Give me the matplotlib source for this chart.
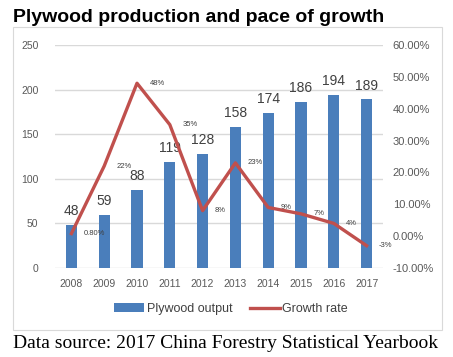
import matplotlib
matplotlib.use('Agg')
import matplotlib.pyplot as plt
from matplotlib.patches import Rectangle

years = ['2008', '2009', '2010', '2011', '2012', '2013', '2014', '2015', '2016', '2017']
output = [48, 59, 88, 119, 128, 158, 174, 186, 194, 189]
growth = [0.8, 22, 48, 35, 8, 23, 9, 7, 4, -3]
growth_labels = ['0.80%', '22%', '48%', '35%', '8%', '23%', '9%', '7%', '4%', '-3%']

W, H = 453, 357
fig = plt.figure(figsize=(W / 100, H / 100), dpi=100)
plt.rcParams['font.family'] = ['Liberation Sans', 'DejaVu Sans']

ax = fig.add_axes([55 / W, (H - 268) / H, (383 - 55) / W, (268 - 45) / H])
x = range(len(years))
bars = ax.bar(x, output, width=0.34, color='#4A7EBB', label='Plywood output', zorder=3)
ax.set_ylim(0, 250)
ax.set_xlim(-0.5, len(years) - 0.5)
ax.set_yticks([0, 50, 100, 150, 200, 250])
ax.set_xticks(list(x))
ax.set_xticklabels(years)
ax.grid(axis='y', color='#d9d9d9', linewidth=1, zorder=0)
for s in ax.spines.values():
    s.set_visible(False)
ax.tick_params(length=0, labelsize=7.5, colors='#595959', pad=8)
ax.tick_params(axis='y', pad=12)

for i, v in enumerate(output):
    ax.annotate(str(v), (i, v), xytext=(0, 10), textcoords='offset points',
                ha='center', va='center', fontsize=10, color='#404040')

ax2 = ax.twinx()
line, = ax2.plot(list(x), growth, color='#C0504D', linewidth=2.4, label='Growth rate', zorder=4)
ax2.set_ylim(-10, 60)
ax2.set_yticks([-10, 0, 10, 20, 30, 40, 50, 60])
ax2.set_yticklabels([f'{t:.2f}%' for t in [-10, 0, 10, 20, 30, 40, 50, 60]])
for s in ax2.spines.values():
    s.set_visible(False)
ax2.tick_params(length=0, labelsize=8, colors='#595959', pad=7)

for i, (v, lab) in enumerate(zip(growth, growth_labels)):
    ax2.annotate(lab, (i, v), xytext=(9, 0), textcoords='offset points',
                 ha='left', va='center', fontsize=5.5, color='#404040')

fig.legend(handles=[bars, line], loc='center', bbox_to_anchor=(231 / W, (H - 309) / H),
           ncol=2, frameon=False, fontsize=9, handlelength=2.4, columnspacing=1.4,
           handletextpad=0.2, labelcolor='#404040')

fig.patches.append(Rectangle((13 / W, (H - 330) / H), 429 / W, 303 / H,
                             transform=fig.transFigure, fill=False,
                             edgecolor='#d9d9d9', linewidth=0.8))

fig.text(13 / W, (H - 18) / H, 'Plywood production and pace of growth',
         fontsize=14, fontweight='bold', ha='left', va='center', color='black')
fig.text(13 / W, (H - 343) / H, 'Data source: 2017 China Forestry Statistical Yearbook',
         fontsize=14, family=['Liberation Serif', 'DejaVu Serif'], ha='left', va='center',
         color='black')

fig.savefig('out.png', dpi=100)
